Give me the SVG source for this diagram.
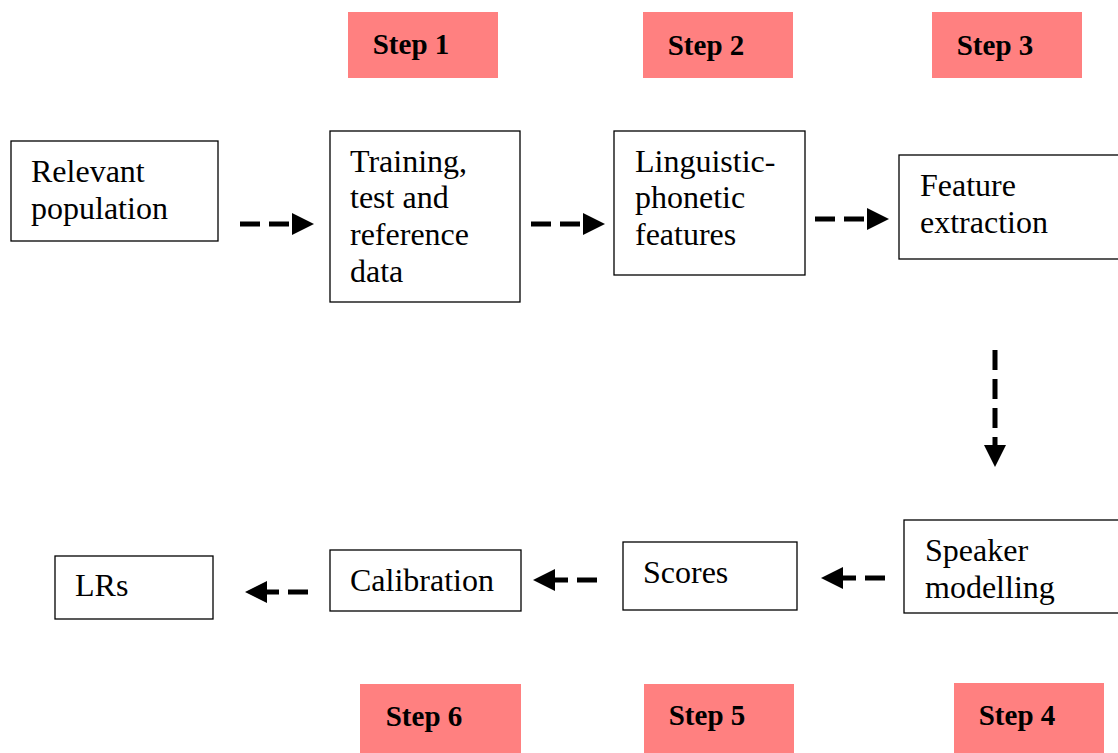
<svg xmlns="http://www.w3.org/2000/svg" width="1118" height="753" viewBox="0 0 1118 753">
  <style>
    .box { fill: #ffffff; stroke: #000000; stroke-width: 1.3; }
    .step { fill: #ff8080; }
    .label { font-family: "Liberation Serif", "Times New Roman", serif; font-size: 32px; fill: #000; }
    .steplabel { font-family: "Liberation Serif", "Times New Roman", serif; font-size: 29px; font-weight: bold; fill: #000; text-anchor: middle; }
    .dash { stroke: #000; stroke-width: 5; stroke-dasharray: 20 9; fill: none; }
  </style>
  <defs>
    <marker id="head" viewBox="0 0 10 10" refX="0" refY="5" markerWidth="4.4" markerHeight="4.4" orient="auto" markerUnits="strokeWidth">
      <path d="M0,0 L10,5 L0,10 Z" fill="#000"/>
    </marker>
  </defs>

  <!-- step banners -->
  <g id="step1"><rect class="step" x="348" y="12" width="150" height="66"/><text class="steplabel" x="411" y="54">Step 1</text></g>
  <g id="step2"><rect class="step" x="643" y="12" width="150" height="66"/><text class="steplabel" x="706" y="55">Step 2</text></g>
  <g id="step3"><rect class="step" x="932" y="12" width="150" height="66"/><text class="steplabel" x="995" y="55">Step 3</text></g>
  <g id="step6"><rect class="step" x="360" y="684" width="161" height="69"/><text class="steplabel" x="424" y="726">Step 6</text></g>
  <g id="step5"><rect class="step" x="644" y="684" width="150" height="69"/><text class="steplabel" x="707" y="725">Step 5</text></g>
  <g id="step4"><rect class="step" x="954" y="683" width="150" height="70"/><text class="steplabel" x="1017" y="725">Step 4</text></g>

  <!-- process boxes -->
  <g id="population">
    <rect class="box" x="11" y="141" width="207" height="100"/>
    <text class="label" x="31" y="182">Relevant</text>
    <text class="label" x="31" y="219">population</text>
  </g>
  <g id="data">
    <rect class="box" x="330" y="131" width="190" height="171"/>
    <text class="label" x="350" y="172">Training,</text>
    <text class="label" x="350" y="208">test and</text>
    <text class="label" x="350" y="245">reference</text>
    <text class="label" x="350" y="282">data</text>
  </g>
  <g id="linguistic">
    <rect class="box" x="614" y="131" width="191" height="144"/>
    <text class="label" x="635" y="172">Linguistic-</text>
    <text class="label" x="635" y="208">phonetic</text>
    <text class="label" x="635" y="245">features</text>
  </g>
  <g id="extraction">
    <rect class="box" x="899" y="155" width="230" height="104"/>
    <text class="label" x="920" y="196">Feature</text>
    <text class="label" x="920" y="233">extraction</text>
  </g>
  <g id="modelling">
    <rect class="box" x="904" y="520" width="230" height="93"/>
    <text class="label" x="925" y="561">Speaker</text>
    <text class="label" x="925" y="598">modelling</text>
  </g>
  <g id="scores">
    <rect class="box" x="623" y="542" width="174" height="68"/>
    <text class="label" x="643" y="583">Scores</text>
  </g>
  <g id="calibration">
    <rect class="box" x="330" y="550" width="191" height="61"/>
    <text class="label" x="350" y="591">Calibration</text>
  </g>
  <g id="lrs">
    <rect class="box" x="55" y="556" width="158" height="63"/>
    <text class="label" x="75" y="596">LRs</text>
  </g>

  <!-- connectors -->
  <g id="connectors">
    <path class="dash" d="M240,224 H292" marker-end="url(#head)"/>
    <path class="dash" d="M531,224 H583" marker-end="url(#head)"/>
    <path class="dash" d="M815,219 H867" marker-end="url(#head)"/>
    <path class="dash" d="M995,350 V445" marker-end="url(#head)"/>
    <path class="dash" d="M885,578 H843" marker-end="url(#head)"/>
    <path class="dash" d="M597,580 H555" marker-end="url(#head)"/>
    <path class="dash" d="M308,592 H267" marker-end="url(#head)"/>
  </g>
</svg>
